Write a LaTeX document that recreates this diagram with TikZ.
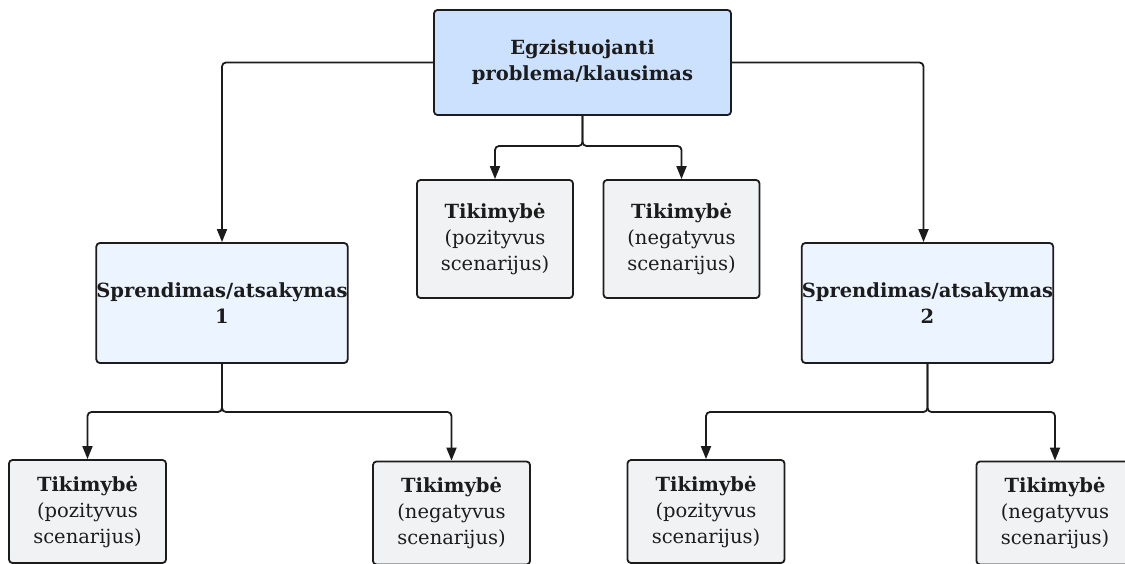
\documentclass[tikz,border=0pt]{standalone}
\usepackage{fontspec}
\setmainfont{DejaVu Serif}
\usetikzlibrary{arrows.meta}
\definecolor{rootfill}{HTML}{CCE1FE}
\definecolor{solfill}{HTML}{EBF4FF}
\definecolor{probfill}{HTML}{F1F2F4}
\definecolor{edge}{HTML}{1C1C1C}
\tikzset{
  box/.style={draw=edge, line width=1.8pt, rounded corners=3.5pt, inner sep=0pt,
    align=center, text=edge, font=\fontsize{19.5}{26}\selectfont},
  rootbox/.style={box, fill=rootfill, minimum width=297pt, minimum height=105pt},
  solbox/.style={box, fill=solfill, minimum width=250pt, minimum height=120pt},
  probbox/.style={box, fill=probfill, minimum width=156pt, minimum height=118pt},
  leafbox/.style={box, fill=probfill, minimum width=157pt, minimum height=103pt},
  link/.style={draw=edge, line width=1.8pt, rounded corners=4pt,
    -{Triangle[width=10pt,length=13pt]}},
}
\begin{document}
\begin{tikzpicture}[x=1pt,y=-1pt]
\useasboundingbox (0,0) rectangle (1125,564);

\node[rootbox] (root) at (582.5,62.5) {\textbf{Egzistuojanti}\\\textbf{problema/klausimas}};

\node[probbox] (p0) at (495,239) {\textbf{Tikimybė}\\(pozityvus\\scenarijus)};
\node[probbox] (n0) at (681.5,239) {\textbf{Tikimybė}\\(negatyvus\\scenarijus)};

\node[solbox] (s1) at (222,303) {\textbf{Sprendimas/atsakymas}\\\textbf{1}};
\node[solbox] (s2) at (927.5,303) {\textbf{Sprendimas/atsakymas}\\\textbf{2}};

\node[leafbox] (p1) at (87.5,511.5) {\textbf{Tikimybė}\\(pozityvus\\scenarijus)};
\node[leafbox] (n1) at (451.5,513) {\textbf{Tikimybė}\\(negatyvus\\scenarijus)};
\node[leafbox] (p2) at (706,511.5) {\textbf{Tikimybė}\\(pozityvus\\scenarijus)};
\node[leafbox] (n2) at (1055,513) {\textbf{Tikimybė}\\(negatyvus\\scenarijus)};

% root to the two solutions
\draw[link] (root.west) -| (s1.north);
\coordinate (s2in) at ([xshift=-4pt]s2.north);
\draw[link] (root.east) -| (s2in);

% root to its two outcomes
\coordinate (rsplit) at (582.5,146);
\draw[link] (root.south) |- (rsplit) -| (p0.north);
\draw[link] (root.south) |- (rsplit) -| (n0.north);

% solution 1 to its outcomes
\coordinate (s1split) at (222,412);
\draw[link] (s1.south) |- (s1split) -| (p1.north);
\draw[link] (s1.south) |- (s1split) -| (n1.north);

% solution 2 to its outcomes
\coordinate (s2split) at (927.5,412);
\draw[link] (s2.south) |- (s2split) -| (p2.north);
\draw[link] (s2.south) |- (s2split) -| (n2.north);
\end{tikzpicture}
\end{document}
